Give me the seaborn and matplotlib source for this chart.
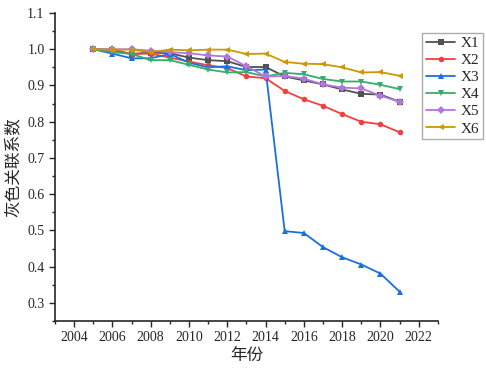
import pandas as pd
import numpy as np
import seaborn as sns
import matplotlib
import matplotlib.pyplot as plt
from matplotlib.ticker import MultipleLocator

matplotlib.use('Agg')

years = list(range(2005, 2022))
x1 = [1.000, 0.999, 0.987, 0.991, 0.989, 0.977, 0.970, 0.967, 0.951, 0.951,
      0.925, 0.914, 0.903, 0.889, 0.877, 0.875, 0.855]
x2 = [1.000, 0.997, 0.987, 0.988, 0.977, 0.966, 0.956, 0.948, 0.925, 0.920,
      0.885, 0.862, 0.844, 0.821, 0.800, 0.793, 0.771]
x3 = [1.000, 0.988, 0.975, 0.975, 0.987, 0.963, 0.950, 0.953, 0.942, 0.944,
      0.498, 0.493, 0.454, 0.426, 0.406, 0.381, 0.331]
x4 = [1.000, 0.992, 0.987, 0.970, 0.970, 0.957, 0.944, 0.936, 0.937, 0.925,
      0.935, 0.931, 0.918, 0.911, 0.911, 0.902, 0.890]
x5 = [1.000, 1.000, 1.000, 0.996, 0.992, 0.989, 0.983, 0.980, 0.953, 0.925,
      0.926, 0.919, 0.903, 0.894, 0.892, 0.872, 0.855]
x6 = [1.000, 0.999, 0.999, 0.992, 0.999, 0.997, 0.999, 0.999, 0.987, 0.988,
      0.965, 0.960, 0.959, 0.950, 0.936, 0.937, 0.927]

names = ['X1', 'X2', 'X3', 'X4', 'X5', 'X6']
series = [x1, x2, x3, x4, x5, x6]

df = pd.concat([pd.DataFrame({'年份': years, '值': s, '指标': n})
                for n, s in zip(names, series)], ignore_index=True)

colors = ['#515151', '#F14040', '#1A6FDF', '#37AD6B', '#B177DE', '#CC9900']
marks = ['s', 'o', '^', 'v', 'D', '<']

sns.set_style('ticks')
plt.rcParams['font.family'] = ['Liberation Serif', 'Noto Sans CJK SC']

fig = plt.figure(figsize=(4.86, 3.72), dpi=100)
ax = fig.add_axes([0.113, 0.137, 0.788, 0.828])

sns.lineplot(data=df, x='年份', y='值', hue='指标', style='指标',
             palette=dict(zip(names, colors)), markers=dict(zip(names, marks)),
             dashes=False, linewidth=1.3, markersize=4, markeredgewidth=0,
             ax=ax)

ax.set_xlim(2003, 2023)
ax.set_ylim(0.25, 1.1)
ax.xaxis.set_major_locator(MultipleLocator(2))
ax.xaxis.set_minor_locator(MultipleLocator(1))
ax.yaxis.set_major_locator(MultipleLocator(0.1))
ax.yaxis.set_minor_locator(MultipleLocator(0.05))
ax.tick_params(which='major', direction='out', length=4, width=1, labelsize=10)
ax.tick_params(which='minor', direction='out', length=2.5, width=1)
ax.spines['right'].set_visible(False)
ax.spines['top'].set_visible(False)
ax.spines['left'].set_linewidth(1.2)
ax.spines['bottom'].set_linewidth(1.2)

cjk = {'family': 'Noto Sans CJK SC', 'size': 12}
ax.set_xlabel('年份', fontdict=cjk, labelpad=2)
ax.set_ylabel('灰色关联系数', fontdict=cjk, labelpad=4)

leg = ax.legend(loc='upper left', bbox_to_anchor=(0.869, 0.912),
                bbox_transform=fig.transFigure, frameon=True, fancybox=False,
                fontsize=11, handlelength=1.9, borderpad=0.25,
                labelspacing=0.22, handletextpad=0.35, borderaxespad=0)
leg.get_frame().set_edgecolor('#999999')
leg.get_frame().set_linewidth(1)

fig.savefig('out.png', dpi=100)
